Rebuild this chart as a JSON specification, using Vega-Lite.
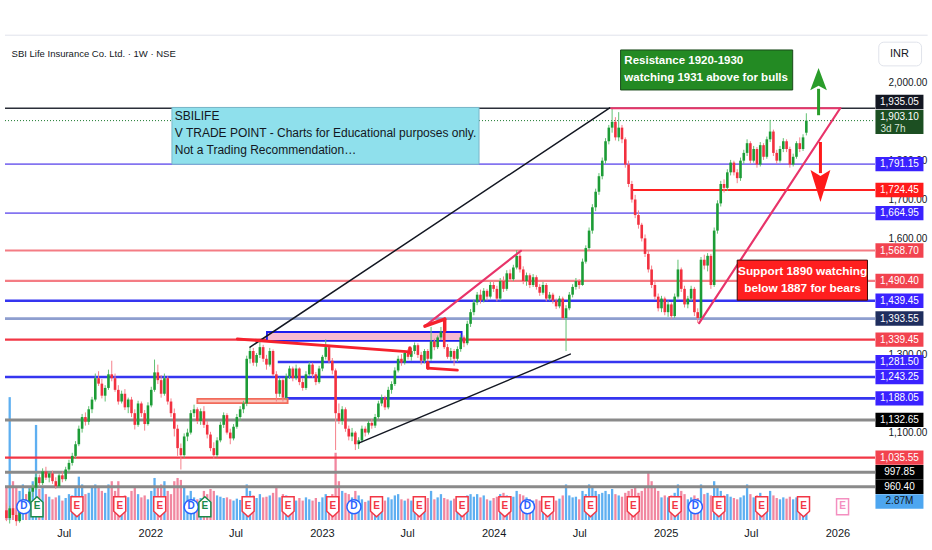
{
  "$schema": "https://vega.github.io/schema/vega-lite/v6.json",
  "width": 880,
  "height": 485,
  "padding": {"left": 0, "top": 35, "right": 52, "bottom": 30},
  "autosize": {"type": "none"},
  "background": "white",
  "config": {
    "view": {"stroke": null},
    "font": "Liberation Sans, Arial, sans-serif",
    "axis": {"domain": false, "ticks": false, "tickSize": 0, "grid": false, "labelColor": "#131722", "labelFont": "Liberation Sans, Arial, sans-serif", "labelFontSize": 10},
    "text": {"font": "Liberation Sans, Arial, sans-serif"}
  },
  "datasets": {
    "bars": [
      {"d":"2021-03-01","o":900,"h":918,"l":872,"c":880,"v":5.2},
      {"d":"2021-03-08","o":880,"h":912,"l":866,"c":905,"v":19},
      {"d":"2021-03-15","o":905,"h":915,"l":880,"c":888,"v":6},
      {"d":"2021-03-22","o":888,"h":900,"l":860,"c":872,"v":5},
      {"d":"2021-03-29","o":872,"h":912,"l":868,"c":905,"v":4.5},
      {"d":"2021-04-05","o":905,"h":930,"l":895,"c":922,"v":5.5},
      {"d":"2021-04-12","o":922,"h":942,"l":905,"c":912,"v":4},
      {"d":"2021-04-19","o":912,"h":955,"l":908,"c":948,"v":5},
      {"d":"2021-04-26","o":948,"h":968,"l":935,"c":958,"v":6},
      {"d":"2021-05-03","o":958,"h":995,"l":952,"c":985,"v":14.7},
      {"d":"2021-05-10","o":985,"h":992,"l":962,"c":970,"v":4.8},
      {"d":"2021-05-17","o":970,"h":1008,"l":965,"c":1000,"v":5},
      {"d":"2021-05-24","o":1000,"h":1012,"l":978,"c":984,"v":4},
      {"d":"2021-05-31","o":984,"h":1000,"l":972,"c":995,"v":3.6},
      {"d":"2021-06-07","o":995,"h":1002,"l":968,"c":975,"v":3.2},
      {"d":"2021-06-14","o":975,"h":985,"l":955,"c":962,"v":3.5},
      {"d":"2021-06-21","o":962,"h":995,"l":958,"c":990,"v":3.8},
      {"d":"2021-06-28","o":990,"h":1000,"l":972,"c":980,"v":3},
      {"d":"2021-07-05","o":980,"h":1012,"l":975,"c":1005,"v":3.4},
      {"d":"2021-07-12","o":1005,"h":1030,"l":998,"c":1022,"v":4},
      {"d":"2021-07-19","o":1022,"h":1048,"l":1015,"c":1040,"v":3.8},
      {"d":"2021-07-26","o":1040,"h":1078,"l":1032,"c":1070,"v":5},
      {"d":"2021-08-02","o":1070,"h":1118,"l":1065,"c":1110,"v":6.7},
      {"d":"2021-08-09","o":1110,"h":1148,"l":1100,"c":1140,"v":5.5},
      {"d":"2021-08-16","o":1140,"h":1152,"l":1118,"c":1128,"v":4},
      {"d":"2021-08-23","o":1128,"h":1168,"l":1120,"c":1160,"v":4.2},
      {"d":"2021-08-30","o":1160,"h":1192,"l":1150,"c":1185,"v":5},
      {"d":"2021-09-06","o":1185,"h":1252,"l":1180,"c":1240,"v":5.5},
      {"d":"2021-09-13","o":1240,"h":1258,"l":1220,"c":1226,"v":5},
      {"d":"2021-09-20","o":1226,"h":1238,"l":1188,"c":1195,"v":4.5},
      {"d":"2021-09-27","o":1195,"h":1222,"l":1180,"c":1215,"v":4.2},
      {"d":"2021-10-04","o":1215,"h":1262,"l":1210,"c":1250,"v":5.5},
      {"d":"2021-10-11","o":1250,"h":1285,"l":1232,"c":1240,"v":6},
      {"d":"2021-10-18","o":1240,"h":1252,"l":1205,"c":1210,"v":4.5},
      {"d":"2021-10-25","o":1210,"h":1222,"l":1172,"c":1180,"v":6},
      {"d":"2021-11-01","o":1180,"h":1208,"l":1175,"c":1200,"v":3},
      {"d":"2021-11-08","o":1200,"h":1212,"l":1158,"c":1165,"v":3.8},
      {"d":"2021-11-15","o":1165,"h":1190,"l":1150,"c":1185,"v":3.5},
      {"d":"2021-11-22","o":1185,"h":1192,"l":1140,"c":1150,"v":4.5},
      {"d":"2021-11-29","o":1150,"h":1160,"l":1108,"c":1120,"v":5},
      {"d":"2021-12-06","o":1120,"h":1182,"l":1115,"c":1175,"v":4},
      {"d":"2021-12-13","o":1175,"h":1180,"l":1140,"c":1150,"v":3.5},
      {"d":"2021-12-20","o":1150,"h":1158,"l":1105,"c":1122,"v":3.8},
      {"d":"2021-12-27","o":1122,"h":1178,"l":1118,"c":1170,"v":3.2},
      {"d":"2022-01-03","o":1170,"h":1218,"l":1165,"c":1210,"v":4.5},
      {"d":"2022-01-10","o":1210,"h":1288,"l":1205,"c":1255,"v":6.5},
      {"d":"2022-01-17","o":1255,"h":1275,"l":1225,"c":1235,"v":5},
      {"d":"2022-01-24","o":1235,"h":1248,"l":1190,"c":1200,"v":5.5},
      {"d":"2022-01-31","o":1200,"h":1252,"l":1195,"c":1240,"v":6},
      {"d":"2022-02-07","o":1240,"h":1245,"l":1172,"c":1180,"v":4.5},
      {"d":"2022-02-14","o":1180,"h":1188,"l":1140,"c":1150,"v":4},
      {"d":"2022-02-21","o":1150,"h":1162,"l":1090,"c":1110,"v":6},
      {"d":"2022-02-28","o":1110,"h":1120,"l":1040,"c":1060,"v":6.5},
      {"d":"2022-03-07","o":1060,"h":1072,"l":1005,"c":1042,"v":6.2},
      {"d":"2022-03-14","o":1042,"h":1098,"l":1035,"c":1090,"v":5},
      {"d":"2022-03-21","o":1090,"h":1110,"l":1078,"c":1100,"v":3.8},
      {"d":"2022-03-28","o":1100,"h":1158,"l":1095,"c":1150,"v":4.5},
      {"d":"2022-04-04","o":1150,"h":1172,"l":1140,"c":1160,"v":3.5},
      {"d":"2022-04-11","o":1160,"h":1165,"l":1122,"c":1130,"v":3.2},
      {"d":"2022-04-18","o":1130,"h":1162,"l":1120,"c":1155,"v":3.4},
      {"d":"2022-04-25","o":1155,"h":1168,"l":1112,"c":1120,"v":4.5},
      {"d":"2022-05-02","o":1120,"h":1130,"l":1085,"c":1095,"v":4},
      {"d":"2022-05-09","o":1095,"h":1102,"l":1052,"c":1060,"v":4.8},
      {"d":"2022-05-16","o":1060,"h":1075,"l":1032,"c":1042,"v":4.5},
      {"d":"2022-05-23","o":1042,"h":1088,"l":1036,"c":1080,"v":3.8},
      {"d":"2022-05-30","o":1080,"h":1128,"l":1075,"c":1120,"v":3.6},
      {"d":"2022-06-06","o":1120,"h":1152,"l":1112,"c":1145,"v":3.4},
      {"d":"2022-06-13","o":1145,"h":1150,"l":1095,"c":1100,"v":3.5},
      {"d":"2022-06-20","o":1100,"h":1110,"l":1070,"c":1085,"v":3.2},
      {"d":"2022-06-27","o":1085,"h":1122,"l":1080,"c":1115,"v":3},
      {"d":"2022-07-04","o":1115,"h":1148,"l":1110,"c":1140,"v":3.3},
      {"d":"2022-07-11","o":1140,"h":1168,"l":1130,"c":1160,"v":3.1},
      {"d":"2022-07-18","o":1160,"h":1182,"l":1150,"c":1175,"v":3.6},
      {"d":"2022-07-25","o":1175,"h":1298,"l":1168,"c":1290,"v":5.5},
      {"d":"2022-08-01","o":1290,"h":1320,"l":1278,"c":1310,"v":4.5},
      {"d":"2022-08-08","o":1310,"h":1318,"l":1272,"c":1280,"v":3.8},
      {"d":"2022-08-15","o":1280,"h":1305,"l":1270,"c":1300,"v":3.4},
      {"d":"2022-08-22","o":1300,"h":1338,"l":1292,"c":1320,"v":4},
      {"d":"2022-08-29","o":1320,"h":1326,"l":1282,"c":1290,"v":3.5},
      {"d":"2022-09-05","o":1290,"h":1300,"l":1262,"c":1275,"v":3.6},
      {"d":"2022-09-12","o":1275,"h":1318,"l":1270,"c":1310,"v":3.8},
      {"d":"2022-09-19","o":1310,"h":1314,"l":1245,"c":1250,"v":4.2},
      {"d":"2022-09-26","o":1250,"h":1258,"l":1180,"c":1200,"v":5},
      {"d":"2022-10-03","o":1200,"h":1242,"l":1192,"c":1235,"v":3.5},
      {"d":"2022-10-10","o":1235,"h":1240,"l":1180,"c":1190,"v":4},
      {"d":"2022-10-17","o":1190,"h":1252,"l":1185,"c":1245,"v":3.8},
      {"d":"2022-10-24","o":1245,"h":1272,"l":1238,"c":1265,"v":3.2},
      {"d":"2022-10-31","o":1265,"h":1270,"l":1232,"c":1240,"v":3.5},
      {"d":"2022-11-07","o":1240,"h":1275,"l":1235,"c":1265,"v":3},
      {"d":"2022-11-14","o":1265,"h":1268,"l":1222,"c":1230,"v":3.4},
      {"d":"2022-11-21","o":1230,"h":1240,"l":1208,"c":1215,"v":3},
      {"d":"2022-11-28","o":1215,"h":1258,"l":1210,"c":1250,"v":3.5},
      {"d":"2022-12-05","o":1250,"h":1282,"l":1245,"c":1275,"v":3.2},
      {"d":"2022-12-12","o":1275,"h":1280,"l":1242,"c":1250,"v":3},
      {"d":"2022-12-19","o":1250,"h":1256,"l":1222,"c":1230,"v":3.4},
      {"d":"2022-12-26","o":1230,"h":1272,"l":1226,"c":1265,"v":2.8},
      {"d":"2023-01-02","o":1265,"h":1300,"l":1258,"c":1295,"v":3.5},
      {"d":"2023-01-09","o":1295,"h":1340,"l":1288,"c":1320,"v":4},
      {"d":"2023-01-16","o":1320,"h":1326,"l":1278,"c":1285,"v":3.6},
      {"d":"2023-01-23","o":1285,"h":1292,"l":1250,"c":1260,"v":4},
      {"d":"2023-01-30","o":1260,"h":1265,"l":1055,"c":1150,"v":10.4},
      {"d":"2023-02-06","o":1150,"h":1175,"l":1122,"c":1130,"v":6},
      {"d":"2023-02-13","o":1130,"h":1168,"l":1120,"c":1160,"v":4.5},
      {"d":"2023-02-20","o":1160,"h":1165,"l":1102,"c":1110,"v":4.2},
      {"d":"2023-02-27","o":1110,"h":1118,"l":1080,"c":1090,"v":4},
      {"d":"2023-03-06","o":1090,"h":1112,"l":1078,"c":1100,"v":3.5},
      {"d":"2023-03-13","o":1100,"h":1104,"l":1055,"c":1070,"v":4.5},
      {"d":"2023-03-20","o":1070,"h":1088,"l":1058,"c":1080,"v":3.8},
      {"d":"2023-03-27","o":1080,"h":1118,"l":1075,"c":1110,"v":3.2},
      {"d":"2023-04-03","o":1110,"h":1116,"l":1090,"c":1100,"v":2.8},
      {"d":"2023-04-10","o":1100,"h":1132,"l":1095,"c":1125,"v":3},
      {"d":"2023-04-17","o":1125,"h":1135,"l":1110,"c":1118,"v":2.8},
      {"d":"2023-04-24","o":1118,"h":1148,"l":1112,"c":1140,"v":3.4},
      {"d":"2023-05-01","o":1140,"h":1182,"l":1135,"c":1175,"v":3.6},
      {"d":"2023-05-08","o":1175,"h":1198,"l":1168,"c":1190,"v":3.2},
      {"d":"2023-05-15","o":1190,"h":1195,"l":1158,"c":1165,"v":3},
      {"d":"2023-05-22","o":1165,"h":1218,"l":1160,"c":1210,"v":3.5},
      {"d":"2023-05-29","o":1210,"h":1232,"l":1200,"c":1225,"v":3.2},
      {"d":"2023-06-05","o":1225,"h":1268,"l":1220,"c":1260,"v":3.8},
      {"d":"2023-06-12","o":1260,"h":1298,"l":1255,"c":1290,"v":4},
      {"d":"2023-06-19","o":1290,"h":1302,"l":1272,"c":1280,"v":3.2},
      {"d":"2023-06-26","o":1280,"h":1312,"l":1275,"c":1305,"v":3},
      {"d":"2023-07-03","o":1305,"h":1315,"l":1288,"c":1295,"v":3.3},
      {"d":"2023-07-10","o":1295,"h":1318,"l":1285,"c":1310,"v":3},
      {"d":"2023-07-17","o":1310,"h":1332,"l":1302,"c":1325,"v":3.5},
      {"d":"2023-07-24","o":1325,"h":1330,"l":1292,"c":1300,"v":3.6},
      {"d":"2023-07-31","o":1300,"h":1308,"l":1275,"c":1285,"v":3.2},
      {"d":"2023-08-07","o":1285,"h":1315,"l":1278,"c":1310,"v":3},
      {"d":"2023-08-14","o":1310,"h":1315,"l":1262,"c":1290,"v":3.4},
      {"d":"2023-08-21","o":1290,"h":1372,"l":1285,"c":1335,"v":4.5},
      {"d":"2023-08-28","o":1335,"h":1342,"l":1312,"c":1320,"v":3.2},
      {"d":"2023-09-04","o":1320,"h":1350,"l":1315,"c":1345,"v":3.5},
      {"d":"2023-09-11","o":1345,"h":1372,"l":1338,"c":1360,"v":4},
      {"d":"2023-09-18","o":1360,"h":1365,"l":1315,"c":1320,"v":3.4},
      {"d":"2023-09-25","o":1320,"h":1328,"l":1290,"c":1295,"v":3.2},
      {"d":"2023-10-02","o":1295,"h":1318,"l":1285,"c":1310,"v":3},
      {"d":"2023-10-09","o":1310,"h":1315,"l":1272,"c":1290,"v":3.3},
      {"d":"2023-10-16","o":1290,"h":1322,"l":1282,"c":1315,"v":3.6},
      {"d":"2023-10-23","o":1315,"h":1352,"l":1308,"c":1345,"v":3.5},
      {"d":"2023-10-30","o":1345,"h":1350,"l":1320,"c":1330,"v":3.2},
      {"d":"2023-11-06","o":1330,"h":1388,"l":1325,"c":1380,"v":3.8},
      {"d":"2023-11-13","o":1380,"h":1418,"l":1372,"c":1410,"v":4},
      {"d":"2023-11-20","o":1410,"h":1442,"l":1402,"c":1435,"v":3.6},
      {"d":"2023-11-27","o":1435,"h":1462,"l":1428,"c":1455,"v":4},
      {"d":"2023-12-04","o":1455,"h":1468,"l":1432,"c":1440,"v":3.5},
      {"d":"2023-12-11","o":1440,"h":1472,"l":1435,"c":1465,"v":3.8},
      {"d":"2023-12-18","o":1465,"h":1470,"l":1440,"c":1450,"v":3.2},
      {"d":"2023-12-25","o":1450,"h":1488,"l":1445,"c":1480,"v":3},
      {"d":"2024-01-01","o":1480,"h":1492,"l":1462,"c":1470,"v":3.4},
      {"d":"2024-01-08","o":1470,"h":1478,"l":1438,"c":1445,"v":3.6},
      {"d":"2024-01-15","o":1445,"h":1498,"l":1440,"c":1490,"v":4},
      {"d":"2024-01-22","o":1490,"h":1502,"l":1462,"c":1470,"v":4.2},
      {"d":"2024-01-29","o":1470,"h":1518,"l":1465,"c":1510,"v":3.8},
      {"d":"2024-02-05","o":1510,"h":1520,"l":1488,"c":1495,"v":3.5},
      {"d":"2024-02-12","o":1495,"h":1532,"l":1490,"c":1525,"v":3.6},
      {"d":"2024-02-19","o":1525,"h":1570,"l":1520,"c":1555,"v":4.5},
      {"d":"2024-02-26","o":1555,"h":1562,"l":1512,"c":1520,"v":4},
      {"d":"2024-03-04","o":1520,"h":1528,"l":1482,"c":1490,"v":3.8},
      {"d":"2024-03-11","o":1490,"h":1512,"l":1478,"c":1505,"v":3.5},
      {"d":"2024-03-18","o":1505,"h":1510,"l":1472,"c":1480,"v":3.2},
      {"d":"2024-03-25","o":1480,"h":1508,"l":1475,"c":1500,"v":3},
      {"d":"2024-04-01","o":1500,"h":1505,"l":1468,"c":1475,"v":3.2},
      {"d":"2024-04-08","o":1475,"h":1482,"l":1452,"c":1460,"v":3},
      {"d":"2024-04-15","o":1460,"h":1488,"l":1455,"c":1480,"v":3.4},
      {"d":"2024-04-22","o":1480,"h":1485,"l":1438,"c":1445,"v":3.6},
      {"d":"2024-04-29","o":1445,"h":1462,"l":1440,"c":1455,"v":3},
      {"d":"2024-05-06","o":1455,"h":1460,"l":1432,"c":1440,"v":3.2},
      {"d":"2024-05-13","o":1440,"h":1445,"l":1418,"c":1425,"v":3},
      {"d":"2024-05-20","o":1425,"h":1452,"l":1420,"c":1445,"v":3.3},
      {"d":"2024-05-27","o":1445,"h":1450,"l":1390,"c":1395,"v":3.8},
      {"d":"2024-06-03","o":1395,"h":1428,"l":1310,"c":1420,"v":5.5},
      {"d":"2024-06-10","o":1420,"h":1462,"l":1415,"c":1455,"v":3.8},
      {"d":"2024-06-17","o":1455,"h":1482,"l":1448,"c":1475,"v":3.5},
      {"d":"2024-06-24","o":1475,"h":1498,"l":1468,"c":1490,"v":3.6},
      {"d":"2024-07-01","o":1490,"h":1495,"l":1470,"c":1480,"v":3.2},
      {"d":"2024-07-08","o":1480,"h":1548,"l":1478,"c":1540,"v":4.5},
      {"d":"2024-07-15","o":1540,"h":1582,"l":1535,"c":1575,"v":4},
      {"d":"2024-07-22","o":1575,"h":1628,"l":1570,"c":1620,"v":5.5},
      {"d":"2024-07-29","o":1620,"h":1688,"l":1612,"c":1680,"v":5},
      {"d":"2024-08-05","o":1680,"h":1728,"l":1670,"c":1720,"v":4.5},
      {"d":"2024-08-12","o":1720,"h":1768,"l":1712,"c":1760,"v":4},
      {"d":"2024-08-19","o":1760,"h":1808,"l":1752,"c":1800,"v":4.2},
      {"d":"2024-08-26","o":1800,"h":1858,"l":1792,"c":1850,"v":4.5},
      {"d":"2024-09-02","o":1850,"h":1892,"l":1842,"c":1885,"v":4},
      {"d":"2024-09-09","o":1885,"h":1936,"l":1872,"c":1900,"v":4.8},
      {"d":"2024-09-16","o":1900,"h":1912,"l":1852,"c":1860,"v":4},
      {"d":"2024-09-23","o":1860,"h":1925,"l":1850,"c":1885,"v":3.8},
      {"d":"2024-09-30","o":1885,"h":1892,"l":1845,"c":1855,"v":3.6},
      {"d":"2024-10-07","o":1855,"h":1860,"l":1782,"c":1790,"v":4.2},
      {"d":"2024-10-14","o":1790,"h":1800,"l":1732,"c":1740,"v":4.5},
      {"d":"2024-10-21","o":1740,"h":1748,"l":1692,"c":1700,"v":4.8},
      {"d":"2024-10-28","o":1700,"h":1712,"l":1652,"c":1660,"v":5},
      {"d":"2024-11-04","o":1660,"h":1672,"l":1625,"c":1635,"v":4.2},
      {"d":"2024-11-11","o":1635,"h":1640,"l":1592,"c":1600,"v":4.5},
      {"d":"2024-11-18","o":1600,"h":1610,"l":1552,"c":1560,"v":5},
      {"d":"2024-11-25","o":1560,"h":1568,"l":1512,"c":1520,"v":7.4},
      {"d":"2024-12-02","o":1520,"h":1530,"l":1472,"c":1480,"v":6},
      {"d":"2024-12-09","o":1480,"h":1490,"l":1442,"c":1450,"v":5},
      {"d":"2024-12-16","o":1450,"h":1458,"l":1412,"c":1420,"v":4.5},
      {"d":"2024-12-23","o":1420,"h":1452,"l":1410,"c":1445,"v":3.5},
      {"d":"2024-12-30","o":1445,"h":1450,"l":1402,"c":1410,"v":3.8},
      {"d":"2025-01-06","o":1410,"h":1440,"l":1398,"c":1430,"v":3.5},
      {"d":"2025-01-13","o":1430,"h":1435,"l":1392,"c":1400,"v":3.8},
      {"d":"2025-01-20","o":1400,"h":1458,"l":1395,"c":1450,"v":4.2},
      {"d":"2025-01-27","o":1450,"h":1545,"l":1445,"c":1520,"v":5.5},
      {"d":"2025-02-03","o":1520,"h":1525,"l":1462,"c":1470,"v":4.5},
      {"d":"2025-02-10","o":1470,"h":1478,"l":1422,"c":1430,"v":4},
      {"d":"2025-02-17","o":1430,"h":1452,"l":1420,"c":1445,"v":3.2},
      {"d":"2025-02-24","o":1445,"h":1478,"l":1438,"c":1470,"v":3.5},
      {"d":"2025-03-03","o":1470,"h":1475,"l":1400,"c":1410,"v":3.8},
      {"d":"2025-03-10","o":1410,"h":1420,"l":1382,"c":1395,"v":3.4},
      {"d":"2025-03-17","o":1395,"h":1552,"l":1390,"c":1545,"v":5.5},
      {"d":"2025-03-24","o":1545,"h":1558,"l":1520,"c":1530,"v":4},
      {"d":"2025-03-31","o":1530,"h":1562,"l":1515,"c":1555,"v":4.2},
      {"d":"2025-04-07","o":1555,"h":1560,"l":1470,"c":1480,"v":3.8},
      {"d":"2025-04-14","o":1480,"h":1628,"l":1475,"c":1620,"v":6},
      {"d":"2025-04-21","o":1620,"h":1698,"l":1612,"c":1690,"v":5},
      {"d":"2025-04-28","o":1690,"h":1748,"l":1682,"c":1740,"v":4.5},
      {"d":"2025-05-05","o":1740,"h":1752,"l":1718,"c":1730,"v":3.8},
      {"d":"2025-05-12","o":1730,"h":1778,"l":1722,"c":1770,"v":4},
      {"d":"2025-05-19","o":1770,"h":1802,"l":1762,"c":1795,"v":3.6},
      {"d":"2025-05-26","o":1795,"h":1800,"l":1762,"c":1770,"v":3.4},
      {"d":"2025-06-02","o":1770,"h":1778,"l":1742,"c":1755,"v":3.2},
      {"d":"2025-06-09","o":1755,"h":1808,"l":1748,"c":1800,"v":3.5},
      {"d":"2025-06-16","o":1800,"h":1828,"l":1792,"c":1820,"v":3.8},
      {"d":"2025-06-23","o":1820,"h":1855,"l":1812,"c":1845,"v":5.5},
      {"d":"2025-06-30","o":1845,"h":1850,"l":1792,"c":1800,"v":4},
      {"d":"2025-07-07","o":1800,"h":1838,"l":1795,"c":1830,"v":3.5},
      {"d":"2025-07-14","o":1830,"h":1835,"l":1782,"c":1790,"v":3.8},
      {"d":"2025-07-21","o":1790,"h":1848,"l":1785,"c":1840,"v":4.2},
      {"d":"2025-07-28","o":1840,"h":1845,"l":1802,"c":1810,"v":3.5},
      {"d":"2025-08-04","o":1810,"h":1862,"l":1805,"c":1855,"v":3.6},
      {"d":"2025-08-11","o":1855,"h":1905,"l":1848,"c":1875,"v":4.5},
      {"d":"2025-08-18","o":1875,"h":1880,"l":1812,"c":1820,"v":3.8},
      {"d":"2025-08-25","o":1820,"h":1828,"l":1792,"c":1800,"v":3.4},
      {"d":"2025-09-01","o":1800,"h":1838,"l":1795,"c":1830,"v":3.2},
      {"d":"2025-09-08","o":1830,"h":1858,"l":1822,"c":1850,"v":3.5},
      {"d":"2025-09-15","o":1850,"h":1855,"l":1822,"c":1830,"v":3.3},
      {"d":"2025-09-22","o":1830,"h":1836,"l":1782,"c":1790,"v":3.6},
      {"d":"2025-09-29","o":1790,"h":1818,"l":1785,"c":1810,"v":3.2},
      {"d":"2025-10-06","o":1810,"h":1850,"l":1805,"c":1845,"v":3.5},
      {"d":"2025-10-13","o":1845,"h":1860,"l":1822,"c":1830,"v":3.4},
      {"d":"2025-10-20","o":1830,"h":1868,"l":1825,"c":1860,"v":3.6},
      {"d":"2025-10-27","o":1872,"h":1922,"l":1865,"c":1903.1,"v":2.87}
    ],
    "levels": [
      {"p":1935.05,"k":"top","from":"2021-02-26"},
      {"p":1903.10,"k":"last","from":"2021-02-26","note":"3d 7h"},
      {"p":1791.15,"k":"zone","from":"2021-02-26"},
      {"p":1724.45,"k":"res","from":"2024-10-19"},
      {"p":1664.95,"k":"zone","from":"2021-02-26"},
      {"p":1568.70,"k":"supL","from":"2021-02-26"},
      {"p":1490.40,"k":"supL","from":"2021-02-26"},
      {"p":1439.45,"k":"blue","from":"2021-02-26"},
      {"p":1393.55,"k":"base","from":"2021-02-26"},
      {"p":1339.45,"k":"sup","from":"2021-02-26"},
      {"p":1281.50,"k":"blue","from":"2022-09-29"},
      {"p":1243.25,"k":"blue","from":"2021-02-26"},
      {"p":1188.05,"k":"blue","from":"2022-10-14"},
      {"p":1132.65,"k":"grey","from":"2021-02-26"},
      {"p":1035.55,"k":"sup","from":"2021-02-26"},
      {"p":997.85,"k":"grey","from":"2021-02-26"},
      {"p":960.40,"k":"grey","from":"2021-02-26"}
    ],
    "segments": [
      {"a":"2022-08-01","pa":1320,"b":"2024-09-04","pb":1936,"k":"black"},
      {"a":"2023-03-20","pa":1073,"b":"2024-06-12","pb":1302,"k":"black"},
      {"a":"2024-09-07","pa":1935,"b":"2026-01-07","pb":1935,"k":"pink"},
      {"a":"2026-01-07","pa":1935,"b":"2025-03-13","pb":1382,"k":"pink"},
      {"a":"2023-08-08","pa":1374,"b":"2024-02-28","pb":1568,"k":"pink"},
      {"a":"2022-07-05","pa":1341,"b":"2023-07-07","pb":1308,"k":"red"},
      {"a":"2023-07-07","pa":1318,"b":"2023-07-07","pb":1305,"k":"thin"},
      {"a":"2023-08-14","pa":1266,"b":"2023-10-16","pb":1261,"k":"red"},
      {"a":"2023-08-14","pa":1280,"b":"2023-08-14","pb":1266,"k":"thin"},
      {"a":"2023-08-08","pa":1374,"b":"2023-09-19","pb":1392,"k":"thin"},
      {"a":"2023-09-19","pa":1392,"b":"2023-09-19","pb":1362,"k":"thin"}
    ],
    "boxes": [
      {"a":"2022-09-06","b":"2023-10-25","lo":1336,"hi":1359,"k":"zone"},
      {"a":"2022-04-11","b":"2022-10-20","lo":1176,"hi":1187,"k":"base"},
      {"a":"2022-02-16","b":"2023-12-01","lo":1791,"hi":1937,"k":"note"},
      {"a":"2024-09-27","b":"2025-09-28","lo":1982,"hi":2085,"k":"bull"},
      {"a":"2025-06-02","b":"2026-03-06","lo":1441,"hi":1544,"k":"bear"}
    ],
    "texts": [
      {"k":"title","t":"SBI Life Insurance Co. Ltd. · 1W · NSE"},
      {"k":"cur","t":"INR"},
      {"k":"note","t":["SBILIFE","V TRADE POINT - Charts for Educational purposes only.","Not a Trading Recommendation…"]},
      {"k":"bull","t":["Resistance 1920-1930","watching 1931 above for bulls"]},
      {"k":"bear","t":["Support 1890 watching","below 1887 for bears"]}
    ],
    "arrows": [
      {"d":"2025-11-22","tail":1917,"tip":1985,"head":2010,"k":"up"},
      {"d":"2025-11-26","tail":1848,"tip":1768,"head":1735,"k":"down"}
    ],
    "events": [
      {"d":"2021-04-07","k":"D","t":"D"},
      {"d":"2021-05-05","k":"Eg","t":"E"},
      {"d":"2021-07-29","k":"E","t":"E"},
      {"d":"2021-10-28","k":"E","t":"E"},
      {"d":"2022-01-21","k":"E","t":"E"},
      {"d":"2022-03-29","k":"D","t":"D"},
      {"d":"2022-04-27","k":"Eg","t":"E"},
      {"d":"2022-07-28","k":"E","t":"E"},
      {"d":"2022-10-21","k":"E","t":"E"},
      {"d":"2023-01-24","k":"E","t":"E"},
      {"d":"2023-03-10","k":"D","t":"D"},
      {"d":"2023-04-27","k":"E","t":"E"},
      {"d":"2023-07-27","k":"E","t":"E"},
      {"d":"2023-10-26","k":"E","t":"E"},
      {"d":"2024-01-25","k":"E","t":"E"},
      {"d":"2024-03-13","k":"D","t":"D"},
      {"d":"2024-04-25","k":"E","t":"E"},
      {"d":"2024-07-25","k":"E","t":"E"},
      {"d":"2024-10-24","k":"E","t":"E"},
      {"d":"2025-01-21","k":"E","t":"E"},
      {"d":"2025-03-05","k":"D","t":"D"},
      {"d":"2025-04-24","k":"E","t":"E"},
      {"d":"2025-07-24","k":"E","t":"E"},
      {"d":"2025-10-21","k":"E","t":"E"},
      {"d":"2026-01-12","k":"Ef","t":"E"}
    ],
    "vol": [
      {"v":2.87,"t":"2.87M"}
    ]
  },
  "layer": [
    {
      "layer": [
        {
          "data": {"name": "bars"},
          "mark": {"type": "bar", "width": 2.3, "opacity": 0.9},
          "encoding": {
            "x": {"field": "d", "type": "temporal", "title": null},
            "y": {"field": "v", "type": "quantitative", "scale": {"domain": [0, 75], "nice": false}, "axis": null},
            "color": {"condition": {"test": "datum.c >= datum.o", "value": "#4da6f0"}, "value": "#f07a96"}
          }
        },
        {
          "data": {"name": "vol"},
          "mark": {"type": "point", "filled": true, "size": 2304, "shape": "M-1,-0.3L1,-0.3L1,0.3L-1,0.3Z", "color": "#4da6f0", "opacity": 1},
          "encoding": {
            "x": {"datum": {"year": 2026, "month": 5, "date": 13, "utc": true}, "type": "temporal"},
            "y": {"field": "v", "type": "quantitative", "axis": null}
          }
        },
        {
          "data": {"name": "vol"},
          "mark": {"type": "text", "color": "#131722", "fontSize": 10},
          "encoding": {
            "x": {"datum": {"year": 2026, "month": 5, "date": 13, "utc": true}, "type": "temporal"},
            "y": {"field": "v", "type": "quantitative", "axis": null},
            "text": {"field": "t"}
          }
        }
      ]
    },
    {
      "layer": [
        {
          "data": {"name": "texts"},
          "transform": [{"filter": "datum.k === 'cur'"}],
          "mark": {"type": "rule", "color": "#e0e3eb", "strokeWidth": 1},
          "encoding": {
            "x": {"datum": {"year": 2021, "month": 2, "date": 26, "utc": true}, "type": "temporal"},
            "x2": {"datum": {"year": 2026, "month": 7, "date": 12, "utc": true}},
            "y": {"datum": 2123, "type": "quantitative"}
          }
        },
        {
          "data": {"name": "levels"},
          "transform": [{"filter": "datum.k !== 'last'"}],
          "mark": {"type": "rule"},
          "encoding": {
            "x": {"field": "from", "type": "temporal", "title": null},
            "x2": {"datum": {"year": 2026, "month": 3, "date": 22, "utc": true}},
            "y": {"field": "p", "type": "quantitative", "title": null},
            "color": {"field": "k", "type": "nominal", "legend": null, "scale": {"domain": ["top","zone","res","supL","sup","blue","base","grey"], "range": ["#2a2e39","#8474f0","#ff2020","#f47c84","#f23645","#3535f0","#8e9ecf","#8a8a8a"]}},
            "strokeWidth": {"field": "k", "type": "ordinal", "legend": null, "scale": {"domain": ["top","zone","res","supL","sup","blue","base","grey"], "range": [1.5,3,1.5,1.5,1.2,1.2,3,2.2]}}
          }
        },
        {
          "data": {"name": "levels"},
          "transform": [{"filter": "datum.k === 'last'"}],
          "mark": {"type": "rule", "color": "#1b7a2f", "strokeWidth": 1, "strokeDash": [1, 2]},
          "encoding": {
            "x": {"field": "from", "type": "temporal", "title": null},
            "x2": {"datum": {"year": 2026, "month": 3, "date": 22, "utc": true}},
            "y": {"field": "p", "type": "quantitative", "title": null}
          }
        },
        {
          "data": {"name": "boxes"},
          "transform": [{"filter": "datum.k === 'zone' || datum.k === 'base'"}],
          "mark": {"type": "rect", "strokeWidth": 1.8},
          "encoding": {
            "x": {"field": "a", "type": "temporal", "title": null},
            "x2": {"field": "b"},
            "y": {"field": "lo", "type": "quantitative", "title": null},
            "y2": {"field": "hi"},
            "fill": {"field": "k", "type": "nominal", "legend": null, "scale": {"domain": ["zone","base"], "range": ["#f8bbd0","#f9c4bb"]}},
            "stroke": {"field": "k", "type": "nominal", "legend": null, "scale": {"domain": ["zone","base"], "range": ["#1c1cf0","#f26b5b"]}}
          }
        },
        {
          "data": {"name": "bars"},
          "mark": {"type": "rule", "strokeWidth": 1},
          "encoding": {
            "x": {
              "field": "d", "type": "temporal", "title": null,
              "scale": {"type": "utc", "domain": [{"year": 2021, "month": 2, "date": 26, "utc": true}, {"year": 2026, "month": 3, "date": 22, "utc": true}]},
              "axis": {
                "values": [
                  {"year": 2021, "month": 7, "date": 1, "utc": true},
                  {"year": 2022, "month": 1, "date": 1, "utc": true},
                  {"year": 2022, "month": 7, "date": 1, "utc": true},
                  {"year": 2023, "month": 1, "date": 1, "utc": true},
                  {"year": 2023, "month": 7, "date": 1, "utc": true},
                  {"year": 2024, "month": 1, "date": 1, "utc": true},
                  {"year": 2024, "month": 7, "date": 1, "utc": true},
                  {"year": 2025, "month": 1, "date": 1, "utc": true},
                  {"year": 2025, "month": 7, "date": 1, "utc": true},
                  {"year": 2026, "month": 1, "date": 1, "utc": true}
                ],
                "labelExpr": "utcmonth(datum.value) === 0 ? utcFormat(datum.value, '%Y') : 'Jul'",
                "labelPadding": 7, "labelFontSize": 11, "labelFlush": false, "labelOverlap": false, "zindex": 0
              }
            },
            "y": {
              "field": "l", "type": "quantitative", "title": null,
              "scale": {"domain": [875, 2123.5], "nice": false, "zero": false},
              "axis": {"orient": "right", "values": [1100,1300,1600,1700,1800,2000], "format": ",.2f", "labelPadding": 8, "zindex": 0}
            },
            "y2": {"field": "h"},
            "color": {"condition": {"test": "datum.c >= datum.o", "value": "#62c173"}, "value": "#f5808b"}
          }
        },
        {
          "data": {"name": "bars"},
          "mark": {"type": "bar", "width": 2.6},
          "encoding": {
            "x": {"field": "d", "type": "temporal", "title": null},
            "y": {"field": "o", "type": "quantitative", "title": null},
            "y2": {"field": "c"},
            "color": {"condition": {"test": "datum.c >= datum.o", "value": "#1c9c36"}, "value": "#f2303f"}
          }
        },
        {
          "data": {"name": "segments"},
          "mark": {"type": "rule", "strokeCap": "round"},
          "encoding": {
            "x": {"field": "a", "type": "temporal", "title": null},
            "x2": {"field": "b"},
            "y": {"field": "pa", "type": "quantitative", "title": null},
            "y2": {"field": "pb"},
            "color": {"field": "k", "type": "nominal", "legend": null, "scale": {"domain": ["black","pink","red","thin"], "range": ["#131722","#e8346a","#f5222d","#f5222d"]}},
            "strokeWidth": {"field": "k", "type": "ordinal", "legend": null, "scale": {"domain": ["black","pink","red","thin"], "range": [1.5,3.5,2,1.3]}}
          }
        },
        {
          "data": {"name": "boxes"},
          "transform": [{"filter": "datum.k === 'note' || datum.k === 'bull' || datum.k === 'bear'"}],
          "mark": {"type": "rect", "strokeWidth": 1},
          "encoding": {
            "x": {"field": "a", "type": "temporal", "title": null},
            "x2": {"field": "b"},
            "y": {"field": "lo", "type": "quantitative", "title": null},
            "y2": {"field": "hi"},
            "fill": {"field": "k", "type": "nominal", "legend": null, "scale": {"domain": ["note","bull","bear"], "range": ["#8fe0ec","#238a23","#ff1f1f"]}},
            "stroke": {"field": "k", "type": "nominal", "legend": null, "scale": {"domain": ["note","bull","bear"], "range": ["#79b7c9","#1a4a1a","#3a0a0a"]}}
          }
        },
        {
          "data": {"name": "texts"},
          "transform": [{"filter": "datum.k === 'note'"}],
          "mark": {"type": "text", "align": "left", "baseline": "top", "fontSize": 12, "lineHeight": 17, "color": "#131722"},
          "encoding": {
            "x": {"datum": {"year": 2022, "month": 2, "date": 22, "utc": true}, "type": "temporal"},
            "y": {"datum": 1928, "type": "quantitative"},
            "text": {"field": "t"}
          }
        },
        {
          "data": {"name": "texts"},
          "transform": [{"filter": "datum.k === 'bull'"}],
          "mark": {"type": "text", "align": "left", "baseline": "top", "fontSize": 11.5, "fontWeight": "bold", "lineHeight": 17, "color": "white"},
          "encoding": {
            "x": {"datum": {"year": 2024, "month": 10, "date": 5, "utc": true}, "type": "temporal"},
            "y": {"datum": 2071, "type": "quantitative"},
            "text": {"field": "t"}
          }
        },
        {
          "data": {"name": "texts"},
          "transform": [{"filter": "datum.k === 'bear'"}],
          "mark": {"type": "text", "align": "center", "baseline": "top", "fontSize": 11.8, "fontWeight": "bold", "lineHeight": 17, "color": "white"},
          "encoding": {
            "x": {"datum": {"year": 2025, "month": 10, "date": 19, "utc": true}, "type": "temporal"},
            "y": {"datum": 1530, "type": "quantitative"},
            "text": {"field": "t"}
          }
        },
        {
          "data": {"name": "arrows"},
          "mark": {"type": "rule", "strokeWidth": 3},
          "encoding": {
            "x": {"field": "d", "type": "temporal", "title": null},
            "y": {"field": "tail", "type": "quantitative", "title": null},
            "y2": {"field": "tip"},
            "color": {"field": "k", "type": "nominal", "legend": null, "scale": {"domain": ["up","down"], "range": ["#2a9d2a","#ff1a1a"]}}
          }
        },
        {
          "data": {"name": "arrows"},
          "mark": {"type": "point", "filled": true, "size": 1024, "opacity": 1},
          "encoding": {
            "x": {"field": "d", "type": "temporal", "title": null},
            "y": {"field": "head", "type": "quantitative", "title": null},
            "shape": {"field": "k", "type": "nominal", "legend": null, "scale": {"domain": ["up","down"], "range": ["M0,-0.69L0.52,0.69L0,0.41L-0.52,0.69Z","M0,1L0.62,-1L0,-0.62L-0.62,-1Z"]}},
            "color": {"field": "k", "type": "nominal", "legend": null, "scale": {"domain": ["up","down"], "range": ["#2a9d2a","#ff1a1a"]}}
          }
        },
        {
          "data": {"name": "events"},
          "mark": {"type": "point", "filled": false, "fill": "white", "fillOpacity": 1, "strokeWidth": 1.5, "size": 400, "opacity": 1},
          "encoding": {
            "x": {"field": "d", "type": "temporal", "title": null},
            "y": {"datum": 909, "type": "quantitative"},
            "shape": {"field": "k", "type": "nominal", "legend": null, "scale": {"domain": ["E","Eg","D","Ef"], "range": ["M-0.6,-1L0.6,-1L0.6,0.45L0,1L-0.6,0.45Z","M-0.6,1L0.6,1L0.6,-0.45L0,-1L-0.6,-0.45Z","M0.7,0A0.7,0.7,0,1,1,-0.7,0A0.7,0.7,0,1,1,0.7,0Z","M-0.6,-0.8L0.6,-0.8L0.6,0.8L-0.6,0.8Z"]}},
            "stroke": {"field": "k", "type": "nominal", "legend": null, "scale": {"domain": ["E","Eg","D","Ef"], "range": ["#f23645","#1b8a4a","#2962ff","#f48fc0"]}}
          }
        },
        {
          "data": {"name": "events"},
          "mark": {"type": "text", "fontSize": 10, "fontWeight": "bold", "dy": -1},
          "encoding": {
            "x": {"field": "d", "type": "temporal", "title": null},
            "y": {"datum": 909, "type": "quantitative"},
            "text": {"field": "t"},
            "color": {"field": "k", "type": "nominal", "legend": null, "scale": {"domain": ["E","Eg","D","Ef"], "range": ["#f23645","#1b8a4a","#2962ff","#f48fc0"]}}
          }
        },
        {
          "data": {"name": "levels"},
          "mark": {"type": "point", "filled": true, "size": 2304, "opacity": 1},
          "encoding": {
            "x": {"datum": {"year": 2026, "month": 5, "date": 13, "utc": true}, "type": "temporal"},
            "y": {"field": "p", "type": "quantitative", "title": null},
            "shape": {"field": "k", "type": "nominal", "legend": null, "scale": {"domain": ["top","last","zone","res","supL","sup","blue","base","grey"], "range": ["M-1,-0.56L1,-0.56L1,0.04L-1,0.04Z","M-1,-0.44L1,-0.44L1,0.56L-1,0.56Z","M-1,-0.3L1,-0.3L1,0.3L-1,0.3Z","M-1,-0.3L1,-0.3L1,0.3L-1,0.3Z","M-1,-0.3L1,-0.3L1,0.3L-1,0.3Z","M-1,-0.3L1,-0.3L1,0.3L-1,0.3Z","M-1,-0.3L1,-0.3L1,0.3L-1,0.3Z","M-1,-0.3L1,-0.3L1,0.3L-1,0.3Z","M-1,-0.3L1,-0.3L1,0.3L-1,0.3Z"]}},
            "color": {"field": "k", "type": "nominal", "legend": null, "scale": {"domain": ["top","last","zone","res","supL","sup","blue","base","grey"], "range": ["#131722","#1c4f22","#3a22ff","#ff1a1a","#f2434f","#f2434f","#3a22ff","#1f2e5e","#000000"]}}
          }
        },
        {
          "data": {"name": "levels"},
          "transform": [{"filter": "datum.k !== 'top' && datum.k !== 'last'"}],
          "mark": {"type": "text", "color": "white", "fontSize": 10},
          "encoding": {
            "x": {"datum": {"year": 2026, "month": 5, "date": 13, "utc": true}, "type": "temporal"},
            "y": {"field": "p", "type": "quantitative", "title": null},
            "text": {"field": "p", "type": "quantitative", "format": ",.2f"}
          }
        },
        {
          "data": {"name": "levels"},
          "transform": [{"filter": "datum.k === 'top'"}],
          "mark": {"type": "text", "color": "white", "fontSize": 10, "dy": -6},
          "encoding": {
            "x": {"datum": {"year": 2026, "month": 5, "date": 13, "utc": true}, "type": "temporal"},
            "y": {"field": "p", "type": "quantitative", "title": null},
            "text": {"field": "p", "type": "quantitative", "format": ",.2f"}
          }
        },
        {
          "data": {"name": "levels"},
          "transform": [{"filter": "datum.k === 'last'"}],
          "mark": {"type": "text", "color": "white", "fontSize": 10, "dy": -4},
          "encoding": {
            "x": {"datum": {"year": 2026, "month": 5, "date": 13, "utc": true}, "type": "temporal"},
            "y": {"field": "p", "type": "quantitative", "title": null},
            "text": {"field": "p", "type": "quantitative", "format": ",.2f"}
          }
        },
        {
          "data": {"name": "levels"},
          "transform": [{"filter": "datum.k === 'last'"}],
          "mark": {"type": "text", "color": "#d8e6d8", "fontSize": 10, "dy": 8, "align": "left", "dx": -19},
          "encoding": {
            "x": {"datum": {"year": 2026, "month": 5, "date": 13, "utc": true}, "type": "temporal"},
            "y": {"field": "p", "type": "quantitative", "title": null},
            "text": {"field": "note"}
          }
        },
        {
          "data": {"name": "texts"},
          "transform": [{"filter": "datum.k === 'title'"}],
          "mark": {"type": "text", "align": "left", "baseline": "middle", "fontSize": 9.5, "color": "#131722"},
          "encoding": {
            "x": {"datum": {"year": 2021, "month": 3, "date": 12, "utc": true}, "type": "temporal"},
            "y": {"datum": 2075, "type": "quantitative"},
            "text": {"field": "t"}
          }
        },
        {
          "data": {"name": "texts"},
          "transform": [{"filter": "datum.k === 'cur'"}],
          "mark": {"type": "rect", "fill": "white", "stroke": "#e0e3eb", "strokeWidth": 1, "cornerRadius": 5},
          "encoding": {
            "x": {"datum": {"year": 2026, "month": 3, "date": 30, "utc": true}, "type": "temporal"},
            "x2": {"datum": {"year": 2026, "month": 6, "date": 29, "utc": true}},
            "y": {"datum": 2105, "type": "quantitative"},
            "y2": {"datum": 2044}
          }
        },
        {
          "data": {"name": "texts"},
          "transform": [{"filter": "datum.k === 'cur'"}],
          "mark": {"type": "text", "align": "center", "baseline": "middle", "fontSize": 11, "color": "#131722"},
          "encoding": {
            "x": {"datum": {"year": 2026, "month": 5, "date": 13, "utc": true}, "type": "temporal"},
            "y": {"datum": 2075, "type": "quantitative"},
            "text": {"field": "t"}
          }
        }
      ],
      "resolve": {"scale": {"color": "independent", "fill": "independent", "stroke": "independent", "shape": "independent", "strokeWidth": "independent"}}
    }
  ],
  "resolve": {"scale": {"y": "independent"}}
}
